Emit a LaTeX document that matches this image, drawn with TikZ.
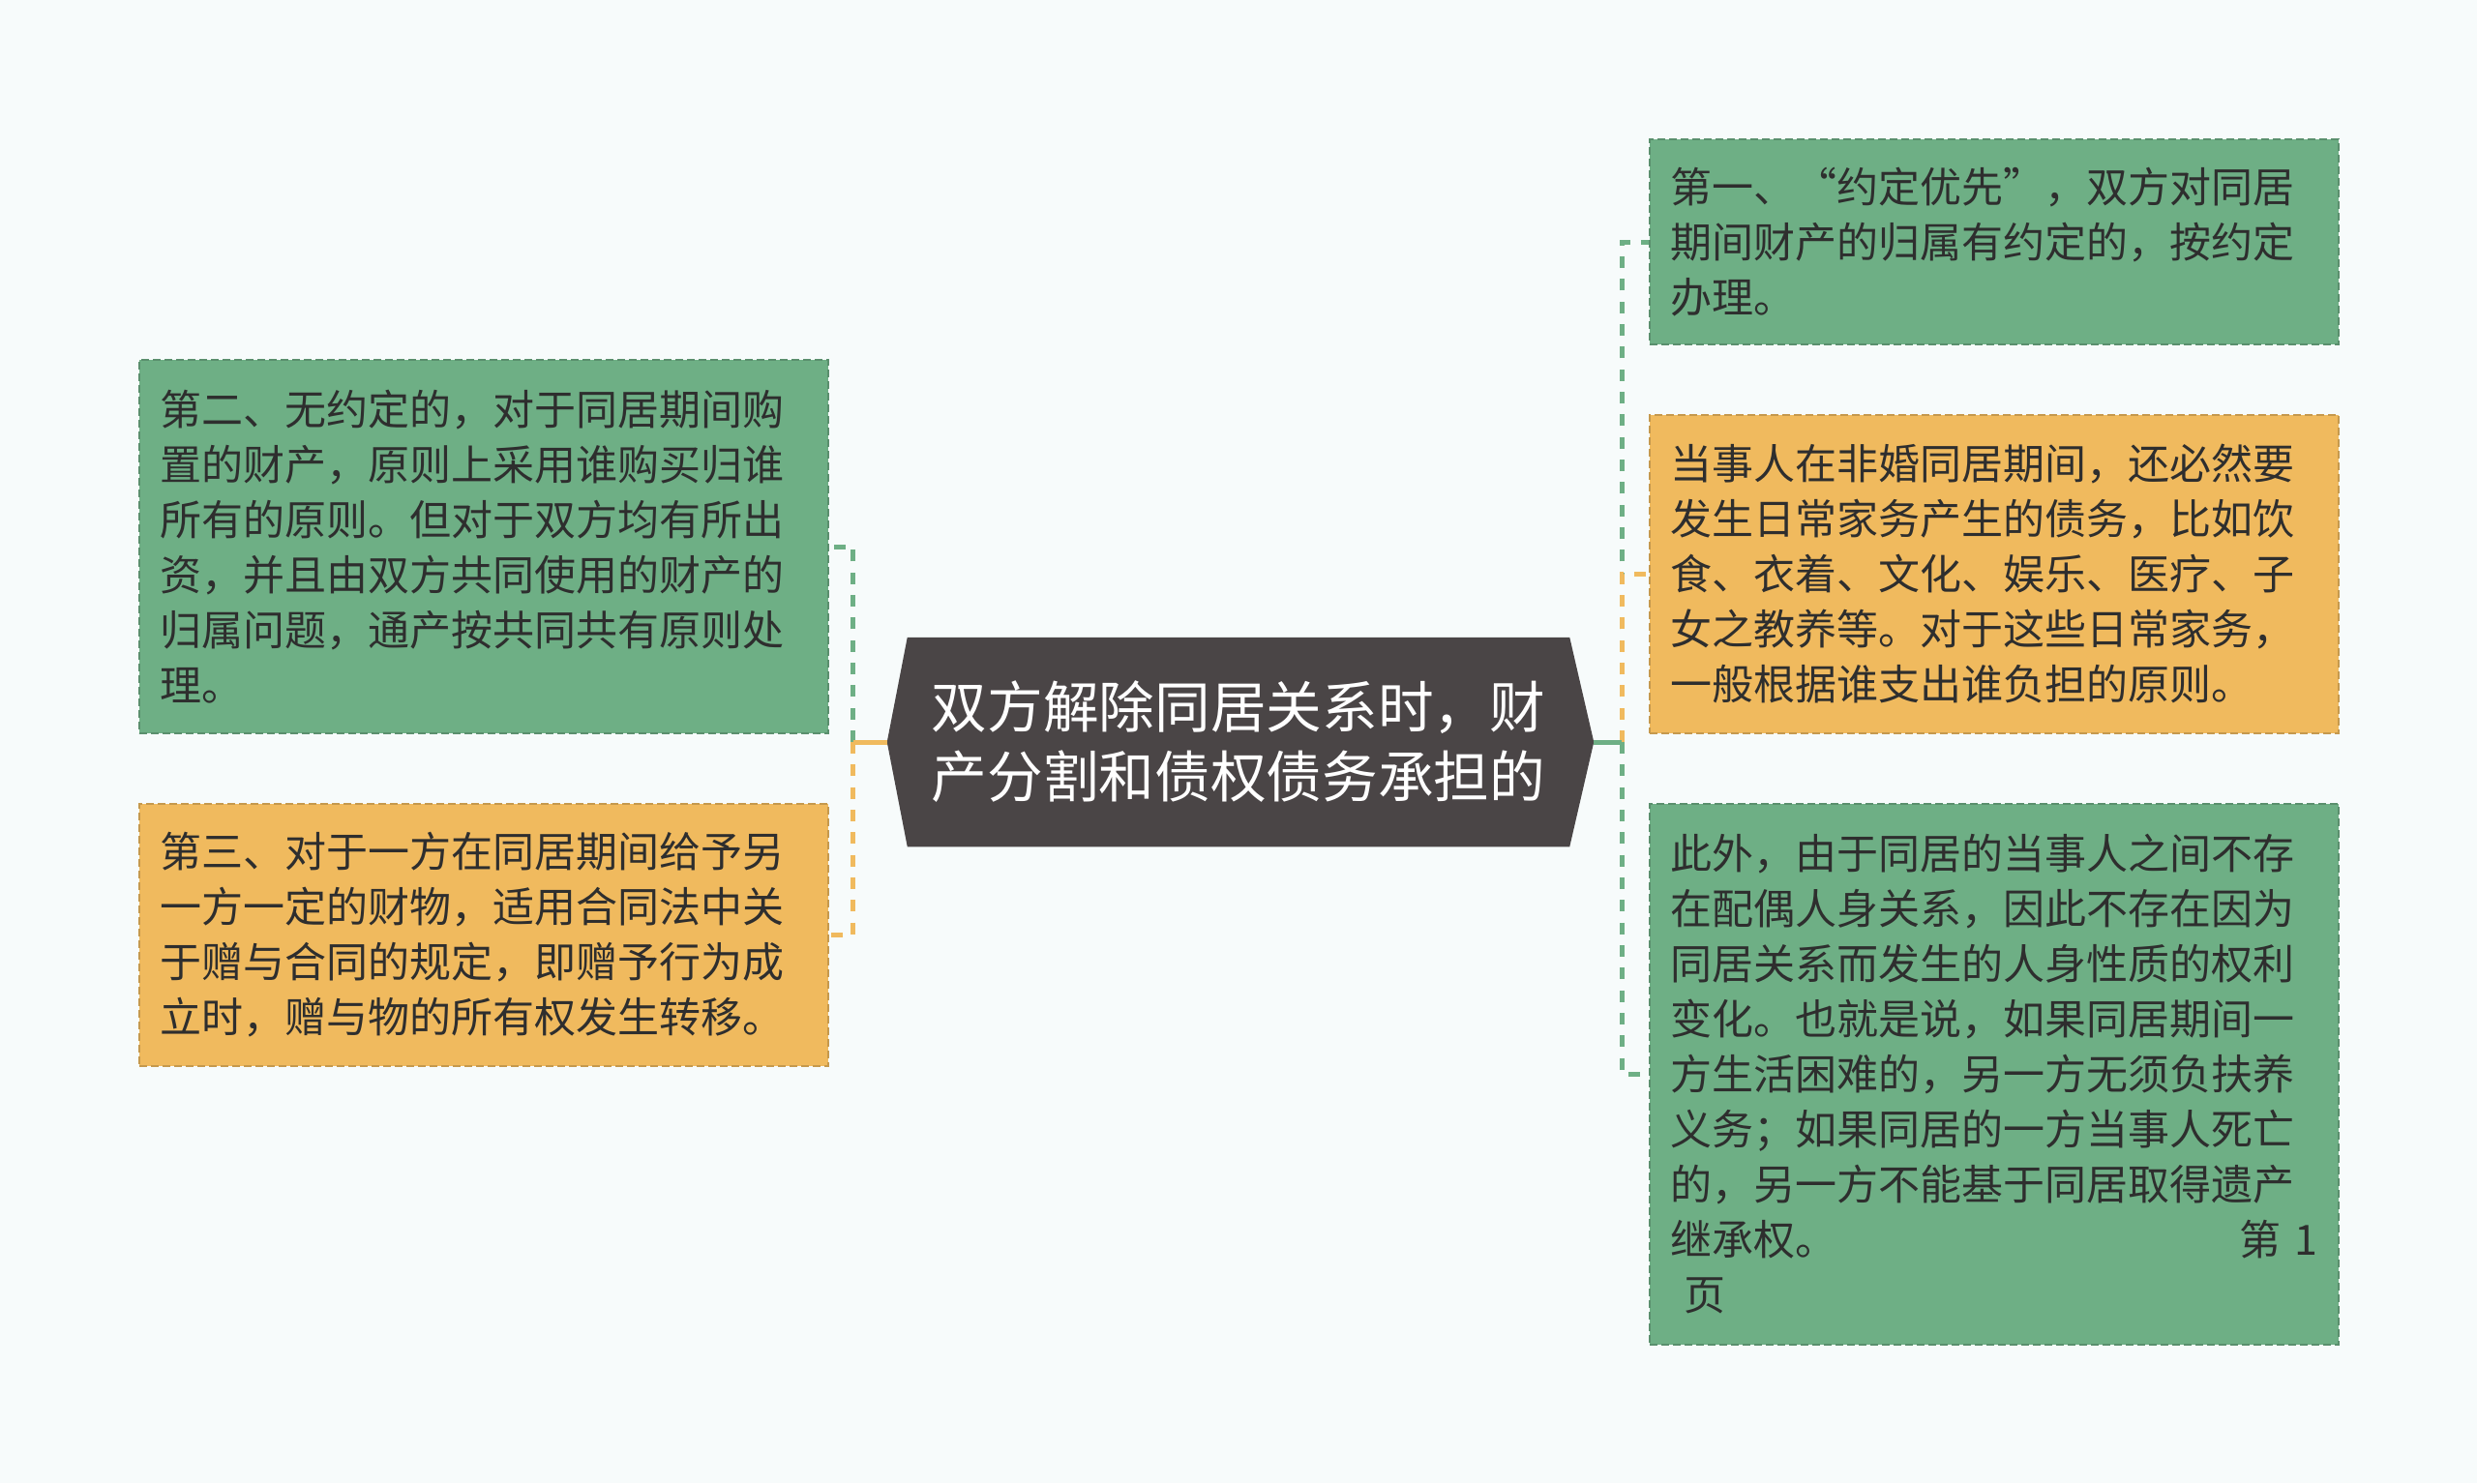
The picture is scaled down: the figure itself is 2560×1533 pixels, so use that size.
\documentclass[tikz,border=0pt]{standalone}
\usepackage{fontspec}
\setmainfont{Noto Sans CJK SC}
\usetikzlibrary{calc,backgrounds}

\definecolor{pagebg}{HTML}{F7FBFB}
\definecolor{leafgreen}{HTML}{6EAF85}
\definecolor{leaforange}{HTML}{F0BA5E}
\definecolor{hubgray}{HTML}{4A4546}
\definecolor{leaftext}{HTML}{2E2E2E}

\tikzset{every picture/.style={line width=0.75pt}}
\tikzset{
  leaf/.style={rectangle, dash pattern=on 2.4pt off 1.2pt, line width=0.6pt,
    text width=200.8pt, inner xsep=6.4pt, inner ysep=0pt, align=left,
    text=leaftext, font=\fontsize{12.9pt}{17.1pt}\selectfont},
  greenleaf/.style={leaf, fill=leafgreen, draw=leafgreen!82!black},
  orangeleaf/.style={leaf, fill=leaforange, draw=leaforange!82!black},
  hubtext/.style={rectangle, inner sep=0pt, minimum width=204.6pt, minimum height=64.2pt,
    align=center, text=white, font=\fontsize{17.3pt}{21.6pt}\selectfont},
  stub/.style={line width=1.5pt},
  link/.style={line width=1.5pt, dash pattern=on 3.6pt off 3.4pt},
}

\begin{document}
\begin{tikzpicture}[x=0.3pt,y=0.3pt,yscale=-1,xscale=1]
		\useasboundingbox (0,0) rectangle (2560,1533);

		% Text Node
		\node[hubtext] (root) at (1280,767) {双方解除同居关系时，财\\产分割和债权债务承担的};
		\coordinate (hubW) at ($(root.west)+(-21,0)$);
		\coordinate (hubE) at ($(root.east)+(25,0)$);
		\coordinate (spineW) at ($(hubW)+(-35,0)$);
		\coordinate (spineE) at ($(hubE)+(29,0)$);

		%Shape: Hexagon
		\begin{scope}[on background layer]
		\fill[pagebg] (0,0) rectangle (2560,1533);
		\fill[hubgray] (root.north west) -- (root.north east) -- (hubE) -- (root.south east) -- (root.south west) -- (hubW) -- cycle;
		\end{scope}

		% Text Node
		\node[greenleaf, minimum height=115.8pt] (propA) at (500,565) {第二、无约定的，对于同居期间购\\置的财产，原则上采用谁购买归谁\\所有的原则。但对于双方均有所出\\资，并且由双方共同使用的财产的\\归属问题，通产按共同共有原则处\\理。};
		% Text Node
		\node[orangeleaf, minimum height=81.3pt] (propB) at (500,966.5) {第三、对于一方在同居期间给予另\\一方一定的财物，适用合同法中关\\于赠与合同的规定，即赠予行为成\\立时，赠与物的所有权发生转移。};
		% Text Node
		\node[greenleaf, minimum height=63.6pt] (agree) at (2061,250) {第一、“约定优先”，双方对同居\\期间财产的归属有约定的，按约定\\办理。};
		% Text Node
		\node[orangeleaf, minimum height=98.7pt] (debt) at (2061,593.5) {当事人在非婚同居期间，还必然要\\发生日常家务产生的债务，比如饮\\食、衣着、文化、娱乐、医疗、子\\女之教养等。对于这些日常家务，\\一般根据谁支出谁负担的原则。};
		% Text Node
		\node[greenleaf, minimum height=167.7pt] (personal) at (2061,1110.5) {此外，由于同居的当事人之间不存\\在配偶人身关系，因此不存在因为\\同居关系而发生的人身性质的权利\\变化。也就是说，如果同居期间一\\方生活困难的，另一方无须负扶养\\义务；如果同居的一方当事人死亡\\的，另一方不能基于同居取得遗产\\继承权。\hfill 第 1\\\ 页};

		%Straight Lines
		\draw[link, leafgreen] (spineW) |- (propA.east);
		\draw[link, leaforange] (spineW) |- (propB.east);
		\draw[stub, leaforange] (hubW) -- (spineW);
		\draw[link, leafgreen] (spineE) |- (agree.west);
		\draw[link, leaforange] (spineE) |- (debt.west);
		\draw[link, leafgreen] (spineE) |- (personal.west);
		\draw[stub, leafgreen] (hubE) -- (spineE);

\end{tikzpicture}
\end{document}
